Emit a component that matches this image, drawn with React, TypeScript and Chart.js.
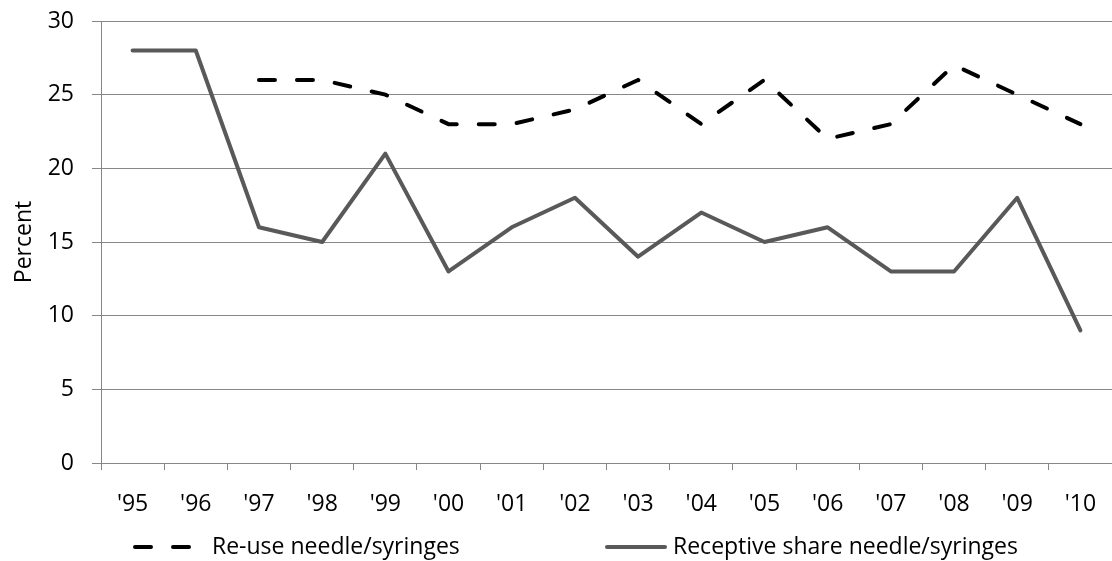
import React, { useEffect, useRef } from "react";
import { Chart, registerables } from "chart.js";

Chart.register(...registerables);

const categories = ["'95", "'96", "'97", "'98", "'99", "'00", "'01", "'02", "'03", "'04", "'05", "'06", "'07", "'08", "'09", "'10"];
const reuseValues: (number | null)[] = [null, null, 26, 26, 25, 23, 23, 24, 26, 23, 26, 22, 23, 27, 25, 23];
const receptiveValues: number[] = [28, 28, 16, 15, 21, 13, 16, 18, 14, 17, 15, 16, 13, 13, 18, 9];
const reuseLabel = "Re-use needle/syringes";
const receptiveLabel = "Receptive share needle/syringes";
const yTitle = "Percent";

const FONT = "'Open Sans', sans-serif";
const FS = 23;
const GRID = "#878787";
const DASH = [16, 22];

const legendPlugin = {
  id: "customLegend",
  afterDraw(chart: any) {
    const ctx = chart.ctx;
    ctx.save();
    const y = 547;
    ctx.lineWidth = 4;
    ctx.lineCap = "round";
    ctx.strokeStyle = "#000000";
    ctx.setLineDash(DASH);
    ctx.beginPath();
    ctx.moveTo(135, y);
    ctx.lineTo(190, y);
    ctx.stroke();
    ctx.setLineDash([]);
    ctx.strokeStyle = "#595959";
    ctx.beginPath();
    ctx.moveTo(607, y);
    ctx.lineTo(665, y);
    ctx.stroke();
    ctx.fillStyle = "#000000";
    ctx.font = `${FS}px ${FONT}`;
    ctx.textBaseline = "middle";
    ctx.textAlign = "left";
    ctx.fillText(reuseLabel, 212, y);
    ctx.fillText(receptiveLabel, 673, y);
    ctx.restore();
  },
};

export default function App() {
  const ref = useRef<HTMLCanvasElement>(null);
  useEffect(() => {
    if (!ref.current) return;
    const chart = new Chart(ref.current, {
      type: "line",
      data: {
        labels: categories,
        datasets: [
          {
            label: reuseLabel,
            data: reuseValues,
            borderColor: "#000000",
            borderWidth: 4,
            borderDash: DASH,
            borderCapStyle: "round",
            pointRadius: 0,
            tension: 0,
            fill: false,
          },
          {
            label: receptiveLabel,
            data: receptiveValues,
            borderColor: "#595959",
            borderWidth: 4,
            borderCapStyle: "round",
            borderJoinStyle: "round",
            pointRadius: 0,
            tension: 0,
            fill: false,
          },
        ],
      },
      options: {
        animation: false,
        responsive: true,
        maintainAspectRatio: false,
        layout: { padding: { top: 21, right: 0, left: 0, bottom: 0 } },
        plugins: { legend: { display: false }, tooltip: { enabled: false } },
        scales: {
          x: {
            offset: true,
            grid: { offset: true, drawOnChartArea: false, drawTicks: true, tickLength: 7, color: GRID, lineWidth: 1 },
            border: { color: GRID, width: 1 },
            ticks: { color: "#000", font: { family: FONT, size: FS }, padding: 21, maxRotation: 0, autoSkip: false },
            afterFit: (s: any) => { s.height = 98; s.paddingLeft = 0; s.paddingRight = 0; },
          },
          y: {
            min: 0,
            max: 30,
            ticks: { stepSize: 5, color: "#000", font: { family: FONT, size: FS }, padding: 18 },
            grid: { color: GRID, lineWidth: 1, tickLength: 9 },
            border: { color: GRID, width: 1 },
            title: { display: true, text: yTitle, color: "#000", font: { family: FONT, size: FS }, padding: { top: 11, bottom: 0 } },
            afterFit: (s: any) => { s.width = 101; s.paddingTop = 0; s.paddingBottom = 0; },
          },
        },
      },
      plugins: [legendPlugin],
    });
    return () => chart.destroy();
  }, []);
  return (
    <div style={{ position: "fixed", left: 0, top: 0, width: 1112, height: 561, background: "#fff" }}>
      <canvas ref={ref} />
    </div>
  );
}
